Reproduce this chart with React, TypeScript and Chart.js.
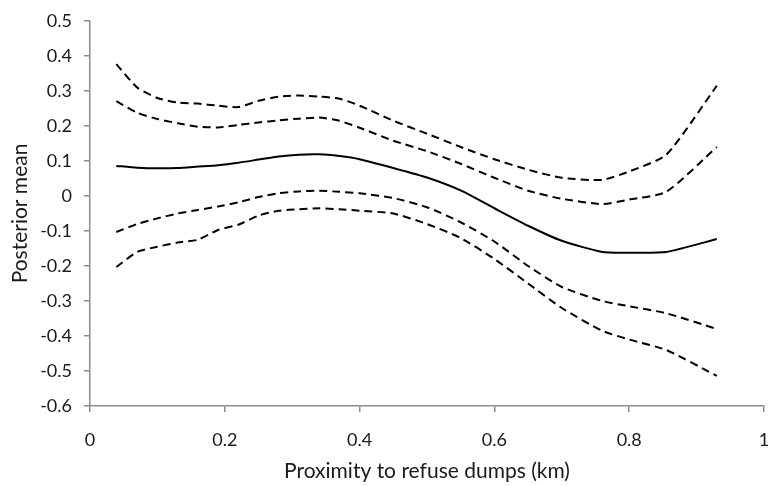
import React, { useEffect, useRef } from "react";
import { Chart, registerables } from "chart.js";

Chart.register(...registerables);

const xValues = [0.039, 0.07, 0.1, 0.13, 0.16, 0.19, 0.22, 0.25, 0.28, 0.31, 0.34, 0.37, 0.4, 0.45, 0.5, 0.55, 0.6, 0.65, 0.7, 0.76, 0.8, 0.855, 0.93];

const meanValues = [0.086, 0.081, 0.079, 0.08, 0.084, 0.088, 0.095, 0.104, 0.113, 0.118, 0.119, 0.114, 0.105, 0.08, 0.053, 0.016, -0.035, -0.085, -0.128, -0.16, -0.162, -0.16, -0.123];
const upperOuter = [0.377, 0.31, 0.28, 0.267, 0.264, 0.258, 0.254, 0.272, 0.284, 0.287, 0.284, 0.278, 0.258, 0.215, 0.178, 0.14, 0.105, 0.075, 0.052, 0.046, 0.07, 0.118, 0.315];
const upperInner = [0.271, 0.238, 0.22, 0.208, 0.198, 0.196, 0.203, 0.21, 0.216, 0.221, 0.224, 0.215, 0.195, 0.158, 0.128, 0.092, 0.052, 0.015, -0.008, -0.023, -0.01, 0.012, 0.14];
const lowerInner = [-0.103, -0.08, -0.064, -0.05, -0.04, -0.03, -0.018, -0.003, 0.008, 0.013, 0.015, 0.012, 0.008, -0.006, -0.032, -0.075, -0.13, -0.2, -0.26, -0.3, -0.315, -0.335, -0.38];
const lowerOuter = [-0.203, -0.16, -0.145, -0.133, -0.125, -0.097, -0.082, -0.056, -0.042, -0.038, -0.035, -0.038, -0.042, -0.05, -0.08, -0.12, -0.18, -0.25, -0.32, -0.385, -0.41, -0.44, -0.514];

const xTitle = "Proximity to refuse dumps (km)";
const yTitle = "Posterior mean";

const toPoints = (ys: number[]) => xValues.map((x, i) => ({ x, y: ys[i] }));

export default function App() {
  const ref = useRef<HTMLCanvasElement | null>(null);

  useEffect(() => {
    document.body.style.margin = "0";
    if (!ref.current) return;
    const font = "Lato, 'Open Sans', sans-serif";
    const axisColor = "#8c8c8c";
    const dashed = (ys: number[]) => ({
      data: toPoints(ys),
      borderColor: "#000",
      borderWidth: 2,
      borderDash: [8, 5],
      pointRadius: 0,
      tension: 0.2,
      fill: false,
    });
    const chart = new Chart(ref.current, {
      type: "line",
      data: {
        datasets: [
          { data: toPoints(meanValues), borderColor: "#000", borderWidth: 2, pointRadius: 0, tension: 0.2, fill: false },
          dashed(upperOuter),
          dashed(upperInner),
          dashed(lowerInner),
          dashed(lowerOuter),
        ],
      },
      options: {
        animation: false,
        responsive: false,
        layout: { padding: { top: 21, right: 4, left: 0, bottom: 0 } },
        plugins: { legend: { display: false }, tooltip: { enabled: false } },
        scales: {
          x: {
            type: "linear",
            min: 0,
            max: 1,
            afterFit: (s: any) => { s.height = 80; s.paddingLeft = 0; s.paddingRight = 0; },
            ticks: { stepSize: 0.2, color: "#1a1a1a", font: { family: font, size: 18 }, padding: 17, maxRotation: 0,
              callback: (v: any) => String(Math.round(Number(v) * 10) / 10) },
            grid: { display: true, drawOnChartArea: false, drawTicks: true, tickLength: 6, color: axisColor, lineWidth: 1.5 },
            border: { color: axisColor, width: 1.5 },
            title: { display: true, text: xTitle, color: "#1a1a1a", font: { family: font, size: 21 }, padding: { top: 0, bottom: 2 } },
          },
          y: {
            type: "linear",
            min: -0.6,
            max: 0.5,
            afterFit: (s: any) => { s.width = 90; s.paddingTop = 0; s.paddingBottom = 0; },
            ticks: { stepSize: 0.1, color: "#1a1a1a", font: { family: font, size: 18 }, padding: 12,
              callback: (v: any) => String(Math.round(Number(v) * 10) / 10) },
            grid: { display: true, drawOnChartArea: false, drawTicks: true, tickLength: 6, color: axisColor, lineWidth: 1.5 },
            border: { color: axisColor, width: 1.5 },
            title: { display: true, text: yTitle, color: "#1a1a1a", font: { family: font, size: 21 }, padding: { top: 8, bottom: 0 } },
          },
        },
      },
    } as any);
    return () => chart.destroy();
  }, []);

  return (
    <div style={{ width: 768, height: 486 }}>
      <canvas ref={ref} width={768} height={486} />
    </div>
  );
}
